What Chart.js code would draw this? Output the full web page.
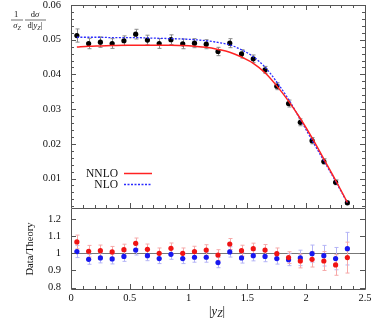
<!DOCTYPE html>
<html>
<head>
<meta charset="utf-8">
<script src="https://cdn.jsdelivr.net/npm/chart.js@4.4.0/dist/chart.umd.min.js"></script>
<style>
    html, body { margin: 0; padding: 0; background: #fff; }
    #marco { position: relative; width: 374px; height: 320px; }
    canvas { position: absolute; left: 0; }
    #chartSup { top: 0; }
    #chartInf { top: 200px; }
</style>
</head>
<body>
<div id="marco">
    <canvas id="chartSup" width="374" height="212" style="width:374px;height:212px"></canvas>
    <canvas id="chartInf" width="374" height="120" style="width:374px;height:120px"></canvas>
</div>
<script>
// Centros de bin en |yZ|
const centros = [0.05, 0.15, 0.25, 0.35, 0.45, 0.55, 0.65, 0.75, 0.85, 0.95, 1.05, 1.15,
                 1.25, 1.35, 1.45, 1.55, 1.65, 1.75, 1.85, 1.95, 2.05, 2.15, 2.25, 2.35];

// Panel superior: datos y predicciones
const datos = [0.0512, 0.0489, 0.0493, 0.0489, 0.0497, 0.0516, 0.0499, 0.0489, 0.0500, 0.0488, 0.0490, 0.0487,
               0.0466, 0.0490, 0.0459, 0.0445, 0.0413, 0.0366, 0.0316, 0.0262, 0.0209, 0.0149, 0.0089, 0.0030];
const errDatos = [0.0019, 0.0015, 0.0015, 0.0014, 0.0014, 0.0014, 0.0014, 0.0014, 0.0014, 0.0014, 0.0013, 0.0013,
                  0.0012, 0.0013, 0.0012, 0.0011, 0.0010, 0.0010, 0.0010, 0.0010, 0.0009, 0.0008, 0.0007, 0.0005];
const nnlo = [0.0479, 0.0481, 0.0482, 0.0483, 0.0484, 0.0484, 0.0484, 0.0484, 0.0484, 0.0483, 0.0481, 0.0478,
              0.0472, 0.0464, 0.0450, 0.0432, 0.0405, 0.0367, 0.0323, 0.0273, 0.0217, 0.0156, 0.0095, 0.0031];
const nlo = [0.0507, 0.0507, 0.0507, 0.0506, 0.0506, 0.0506, 0.0505, 0.0504, 0.0503, 0.0502, 0.0500, 0.0497,
             0.0492, 0.0485, 0.0471, 0.0451, 0.0421, 0.0378, 0.0328, 0.0270, 0.0210, 0.0151, 0.0092, 0.0030];

// Panel inferior: Data/Theory
const ratioNNLO = [1.066, 1.012, 1.015, 1.008, 1.021, 1.058, 1.023, 1.000, 1.029, 1.000, 1.010, 1.019,
                   0.990, 1.054, 1.015, 1.027, 1.019, 0.998, 0.975, 0.955, 0.965, 0.955, 0.932, 0.975];
const errNNLO = [0.040, 0.034, 0.033, 0.032, 0.032, 0.031, 0.031, 0.031, 0.031, 0.031, 0.031, 0.031,
                 0.031, 0.032, 0.032, 0.032, 0.032, 0.033, 0.034, 0.040, 0.045, 0.055, 0.060, 0.090];
const ratioNLO = [1.010, 0.965, 0.973, 0.967, 0.982, 1.019, 0.986, 0.969, 0.994, 0.969, 0.977, 0.977,
                  0.946, 1.008, 0.973, 0.986, 0.982, 0.969, 0.963, 0.973, 0.998, 0.986, 0.969, 1.027];
const errNLO = [0.035, 0.029, 0.029, 0.029, 0.029, 0.029, 0.029, 0.029, 0.029, 0.029, 0.029, 0.029,
                0.030, 0.030, 0.030, 0.030, 0.031, 0.032, 0.035, 0.045, 0.050, 0.060, 0.065, 0.095];

// Etiquetas de ejes
const ticksX = [0, 0.5, 1, 1.5, 2, 2.5];
const etiquetasX = ['0', '0.5', '1', '1.5', '2', '2.5'];
const ticksYSup = [0.01, 0.02, 0.03, 0.04, 0.05, 0.06];
const etiquetasYSup = ['0.01', '0.02', '0.03', '0.04', '0.05', '0.06'];
const ticksYInf = [0.8, 0.9, 1, 1.1, 1.2];
const etiquetasYInf = ['0.8', '0.9', '1', '1.1', '1.2'];

const FUENTE = "'Liberation Serif', 'DejaVu Serif', serif";
const GRIS_EJE = '#555';
const TEXTO = '#111';

const puntos = (ys) => centros.map((c, i) => ({ x: c, y: ys[i] }));

/**
 * Dibuja texto compuesto por partes (fuente y desplazamiento propio)
 */
function escribir(ctx, partes, x, y, align) {
    let ancho = 0;
    partes.forEach(p => { ctx.font = p.f; ancho += ctx.measureText(p.t).width; });
    let cx = align === 'center' ? x - ancho / 2 : (align === 'right' ? x - ancho : x);
    ctx.textAlign = 'left';
    partes.forEach(p => {
        ctx.font = p.f;
        ctx.fillText(p.t, cx, y + (p.dy || 0));
        cx += ctx.measureText(p.t).width;
    });
    return ancho;
}

function barrasError(chart, valores, errores, color) {
    const { ctx, scales: { x, y } } = chart;
    ctx.save();
    ctx.strokeStyle = color;
    ctx.lineWidth = 1;
    ctx.beginPath();
    centros.forEach((c, i) => {
        const px = Math.round(x.getPixelForValue(c)) + 0.5;
        const y1 = y.getPixelForValue(valores[i] - errores[i]);
        const y2 = y.getPixelForValue(valores[i] + errores[i]);
        ctx.moveTo(px, y1); ctx.lineTo(px, y2);
        ctx.moveTo(px - 2, y1); ctx.lineTo(px + 2, y1);
        ctx.moveTo(px - 2, y2); ctx.lineTo(px + 2, y2);
    });
    ctx.stroke();
    ctx.restore();
}

/**
 * Etiquetas del eje Y a la izquierda, ubicadas con la escala de Chart.js
 */
function etiquetasY(chart, valores, textos) {
    const { ctx, chartArea: a, scales: { y } } = chart;
    ctx.save();
    ctx.fillStyle = TEXTO;
    ctx.font = '10.5px ' + FUENTE;
    ctx.textAlign = 'right';
    ctx.textBaseline = 'middle';
    valores.forEach((v, i) => ctx.fillText(textos[i], a.left - 10, y.getPixelForValue(v)));
    ctx.restore();
}

/**
 * Marco y marcas hacia adentro (mayores y menores)
 */
function marcos(chart, conf) {
    const { ctx, chartArea: a, scales: { x, y } } = chart;
    ctx.save();
    ctx.strokeStyle = GRIS_EJE;
    ctx.lineWidth = 1;
    ctx.beginPath();
    for (let i = 0; i <= 25; i++) {
        const px = Math.round(x.getPixelForValue(i / 10)) + 0.5;
        const l = i % 5 === 0 ? 5 : 3;
        if (conf.abajo) { ctx.moveTo(px, a.bottom); ctx.lineTo(px, a.bottom - l); }
        if (conf.arriba) { ctx.moveTo(px, a.top); ctx.lineTo(px, a.top + l); }
    }
    conf.marcasY.forEach(m => {
        const py = Math.round(y.getPixelForValue(m.v)) + 0.5;
        ctx.moveTo(a.left, py); ctx.lineTo(a.left + m.l, py);
        ctx.moveTo(a.right, py); ctx.lineTo(a.right - m.l, py);
    });
    ctx.stroke();
    ctx.beginPath();
    ctx.moveTo(a.left + 0.5, a.top);
    ctx.lineTo(a.left + 0.5, a.bottom + 0.5);
    ctx.lineTo(a.right + 0.5, a.bottom + 0.5);
    ctx.lineTo(a.right + 0.5, a.top);
    if (conf.arriba) { ctx.moveTo(a.left, a.top + 0.5); ctx.lineTo(a.right + 0.5, a.top + 0.5); }
    ctx.stroke();
    ctx.restore();
}

// ---------- Panel superior ----------
const marcasYSup = [];
for (let i = 1; i <= 30; i++) marcasYSup.push({ v: i * 0.002, l: i % 5 === 0 ? 5 : 3 });

const pluginSup = {
    id: 'decorSup',
    beforeDatasetsDraw(chart) {
        barrasError(chart, datos, errDatos, '#8a8a8a');
    },
    afterDraw(chart) {
        const { ctx } = chart;
        marcos(chart, { abajo: true, arriba: true, marcasY: marcasYSup });
        etiquetasY(chart, ticksYSup, etiquetasYSup);
        ctx.save();
        ctx.fillStyle = TEXTO;
        ctx.textBaseline = 'alphabetic';
        const it = 'italic 8.5px ' + FUENTE, rm = '8.5px ' + FUENTE, sub = 'italic 6px ' + FUENTE;
        // 1 / sigma_Z
        escribir(ctx, [{ t: '1', f: rm }], 16, 17, 'center');
        escribir(ctx, [{ t: 'σ', f: it }, { t: 'Z', f: sub, dy: 1.5 }], 17, 28, 'center');
        // dsigma / d|y_Z|
        escribir(ctx, [{ t: 'd', f: rm }, { t: 'σ', f: it }], 35, 17, 'center');
        escribir(ctx, [{ t: 'd|', f: rm }, { t: 'y', f: it }, { t: 'Z', f: sub, dy: 1.5 }, { t: '|', f: rm }], 35, 28, 'center');
        ctx.strokeStyle = TEXTO;
        ctx.lineWidth = 0.6;
        ctx.beginPath();
        ctx.moveTo(11, 20); ctx.lineTo(23, 20);
        ctx.moveTo(25, 20); ctx.lineTo(46, 20);
        ctx.stroke();
        // leyenda
        escribir(ctx, [{ t: 'NNLO', f: '11.5px ' + FUENTE }], 118, 177, 'right');
        escribir(ctx, [{ t: 'NLO', f: '11.5px ' + FUENTE }], 118, 188, 'right');
        ctx.lineWidth = 1.5;
        ctx.strokeStyle = '#ff2222';
        ctx.beginPath(); ctx.moveTo(124, 173.5); ctx.lineTo(152, 173.5); ctx.stroke();
        ctx.strokeStyle = '#2a2aff';
        ctx.lineWidth = 1.3;
        ctx.setLineDash([2, 1.5]);
        ctx.beginPath(); ctx.moveTo(124, 184.5); ctx.lineTo(152, 184.5); ctx.stroke();
        ctx.restore();
    }
};

new Chart(document.getElementById('chartSup'), {
    type: 'line',
    data: {
        datasets: [
            {
                label: 'NNLO',
                data: puntos(nnlo),
                borderColor: '#ff2222',
                borderWidth: 1.5,
                pointRadius: 0,
                cubicInterpolationMode: 'monotone'
            },
            {
                label: 'NLO',
                data: puntos(nlo),
                borderColor: '#2a2aff',
                borderWidth: 1.3,
                borderDash: [2, 1.5],
                pointRadius: 0,
                cubicInterpolationMode: 'monotone'
            },
            {
                label: 'Datos',
                data: puntos(datos),
                showLine: false,
                pointRadius: 2.6,
                pointBackgroundColor: '#000',
                pointBorderWidth: 0
            }
        ]
    },
    options: {
        responsive: false,
        animation: false,
        layout: { padding: { left: 71, right: 9, top: 5, bottom: 3 } },
        scales: {
            x: { type: 'linear', min: 0, max: 2.5, display: false },
            y: { min: 0.0015, max: 0.06, display: false }
        },
        plugins: { legend: { display: false }, tooltip: { enabled: false } }
    },
    plugins: [pluginSup]
});

// ---------- Panel inferior ----------
const marcasYInf = ticksYInf.map(v => ({ v: v, l: 5 }));

const pluginInf = {
    id: 'decorInf',
    beforeDatasetsDraw(chart) {
        const { ctx, chartArea: a, scales: { y } } = chart;
        ctx.save();
        ctx.strokeStyle = '#777';
        ctx.lineWidth = 1;
        const py = Math.round(y.getPixelForValue(1)) + 0.5;
        ctx.beginPath(); ctx.moveTo(a.left, py); ctx.lineTo(a.right, py); ctx.stroke();
        ctx.restore();
        barrasError(chart, ratioNLO, errNLO, '#b4b4f6');
        barrasError(chart, ratioNNLO, errNNLO, '#f6a8a8');
    },
    afterDraw(chart) {
        const { ctx, chartArea: a, scales: { x } } = chart;
        marcos(chart, { abajo: true, arriba: false, marcasY: marcasYInf });
        etiquetasY(chart, ticksYInf, etiquetasYInf);
        ctx.save();
        ctx.fillStyle = TEXTO;
        ctx.font = '10.5px ' + FUENTE;
        ctx.textAlign = 'center';
        ctx.textBaseline = 'middle';
        ticksX.forEach((v, i) => ctx.fillText(etiquetasX[i], x.getPixelForValue(v), a.bottom + 9));
        ctx.textBaseline = 'alphabetic';
        ctx.translate(33, 49);
        ctx.rotate(-Math.PI / 2);
        escribir(ctx, [{ t: 'Data/Theory', f: '10.5px ' + FUENTE }], 0, 0, 'center');
        ctx.restore();
        ctx.save();
        ctx.fillStyle = TEXTO;
        ctx.textBaseline = 'alphabetic';
        escribir(ctx, [{ t: '|', f: '12.5px ' + FUENTE }, { t: 'y', f: 'italic 12.5px ' + FUENTE },
                       { t: 'Z', f: 'italic 9.5px ' + FUENTE, dy: 1.5 }, { t: '|', f: '12.5px ' + FUENTE }], 217, 115, 'center');
        ctx.restore();
    }
};

new Chart(document.getElementById('chartInf'), {
    type: 'line',
    data: {
        datasets: [
            {
                label: 'Data/NNLO',
                data: puntos(ratioNNLO),
                showLine: false,
                pointRadius: 2.6,
                pointBackgroundColor: '#f01414',
                pointBorderWidth: 0
            },
            {
                label: 'Data/NLO',
                data: puntos(ratioNLO),
                showLine: false,
                pointRadius: 2.6,
                pointBackgroundColor: '#1818f0',
                pointBorderWidth: 0
            }
        ]
    },
    options: {
        responsive: false,
        animation: false,
        layout: { padding: { left: 71, right: 9, top: 9, bottom: 31 } },
        scales: {
            x: { type: 'linear', min: 0, max: 2.5, display: false },
            y: { min: 0.792, max: 1.258, display: false }
        },
        plugins: { legend: { display: false }, tooltip: { enabled: false } }
    },
    plugins: [pluginInf]
});
</script>
</body>
</html>
